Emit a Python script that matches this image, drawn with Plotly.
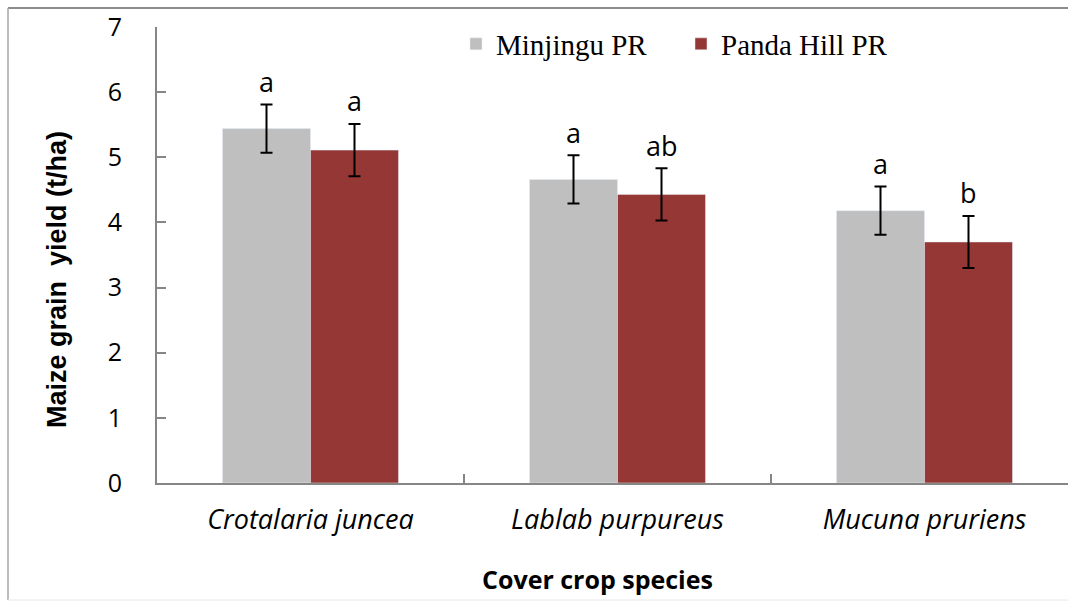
import plotly.graph_objects as go

categories = ["Crotalaria juncea", "Lablab purpureus", "Mucuna pruriens"]
series_names = ["Minjingu PR", "Panda Hill PR"]
minjingu = [5.44, 4.66, 4.18]
panda_hill = [5.11, 4.43, 3.70]
minjingu_err = [0.37, 0.37, 0.37]
panda_hill_err = [0.40, 0.40, 0.40]
minjingu_letters = ["a", "a", "a"]
panda_hill_letters = ["a", "ab", "b"]
y_ticks = [0, 1, 2, 3, 4, 5, 6, 7]

W, H = 1068, 601
X0_AXIS_PY = 483  # pixel row of the x axis
ML, MR, MT = 157, 0, 27
MB = H - X0_AXIS_PY
plot_w = W - ML - MR
plot_h = H - MT - MB
cat_px = 307.0
x_span = plot_w / cat_px

GRAY = "#BFBFBF"
RED = "#953735"
AXIS = "#868686"
TXT_FONT = "Open Sans"


def px2x(px):
    return (px - ML) / plot_w


def py2y(py):
    return (X0_AXIS_PY - py) / plot_h


fig = go.Figure()
fig.add_trace(go.Bar(
    x=categories, y=minjingu, name=series_names[0], marker_color=GRAY,
    error_y=dict(type="data", array=minjingu_err, visible=True, color="black", thickness=2, width=6),
))
fig.add_trace(go.Bar(
    x=categories, y=panda_hill, name=series_names[1], marker_color=RED,
    error_y=dict(type="data", array=panda_hill_err, visible=True, color="black", thickness=2, width=6),
))

bar_w = 88 / cat_px
annos = []
for i in range(len(categories)):
    for j, (vals, errs, letters) in enumerate([(minjingu, minjingu_err, minjingu_letters),
                                               (panda_hill, panda_hill_err, panda_hill_letters)]):
        xoff = (-0.5 + j) * bar_w
        annos.append(dict(x=i + xoff, y=vals[i] + errs[i] + 0.04, xref="x", yref="y",
                          text=letters[i], showarrow=False, yanchor="bottom",
                          font=dict(family=TXT_FONT, size=27, color="black")))

# axis titles
annos.append(dict(x=px2x(597), y=py2y(579), xref="paper", yref="paper",
                  text="<b>Cover crop species</b>", showarrow=False, yanchor="middle", xanchor="center",
                  font=dict(family=TXT_FONT, size=25, color="black")))
annos.append(dict(x=px2x(57), y=py2y(280), xref="paper", yref="paper", textangle=-90,
                  text="<b>Maize grain  yield (t/ha)</b>", showarrow=False, yanchor="middle", xanchor="center",
                  font=dict(family="Liberation Sans", size=27, color="black")))

shapes = [
    dict(type="line", xref="paper", yref="paper", x0=px2x(8), x1=px2x(1080), y0=py2y(8), y1=py2y(8),
         line=dict(color="#8C8C8C", width=2)),
    dict(type="line", xref="paper", yref="paper", x0=px2x(8), x1=px2x(8), y0=py2y(8), y1=py2y(600),
         line=dict(color="#A6A6A6", width=1.5)),
    dict(type="line", xref="paper", yref="paper", x0=px2x(8), x1=px2x(1080), y0=py2y(600), y1=py2y(600),
         line=dict(color="#E8E8E8", width=1)),
]

fig.update_layout(
    width=W, height=H,
    margin=dict(l=ML, r=MR, t=MT, b=MB, autoexpand=False),
    paper_bgcolor="white", plot_bgcolor="white",
    barmode="group", bargap=1 - 2 * bar_w, bargroupgap=0,
    showlegend=True,
    legend=dict(orientation="h", x=px2x(456), xanchor="left", y=py2y(44), yanchor="middle",
                font=dict(family="Liberation Serif", size=29, color="black"),
                entrywidthmode="pixels", entrywidth=180, bgcolor="rgba(0,0,0,0)"),
    xaxis=dict(range=[-0.5, -0.5 + x_span], showline=True, linecolor=AXIS, linewidth=2,
               ticks="inside", ticklen=9, tickcolor=AXIS, tickwidth=1.5, tickson="boundaries",
               tickfont=dict(family=TXT_FONT, size=27, color="black"),
               ticklabelstandoff=12, showgrid=False, zeroline=False, fixedrange=True,
               tickvals=categories, ticktext=["<i>%s</i>" % c for c in categories]),
    yaxis=dict(range=[0, 7], tickvals=y_ticks, showline=True, linecolor=AXIS, linewidth=2,
               ticks="inside", ticklen=9, tickcolor=AXIS, tickwidth=1.5,
               tickfont=dict(family=TXT_FONT, size=25, color="black"),
               ticklabelstandoff=28, showgrid=False, zeroline=False, fixedrange=True),
    annotations=annos, shapes=shapes,
)

fig.write_html(
    "out.html",
    config={"displayModeBar": False},
    post_script="document.body.style.margin='0';document.body.style.overflow='hidden';"
                "document.documentElement.style.overflow='hidden';",
)
